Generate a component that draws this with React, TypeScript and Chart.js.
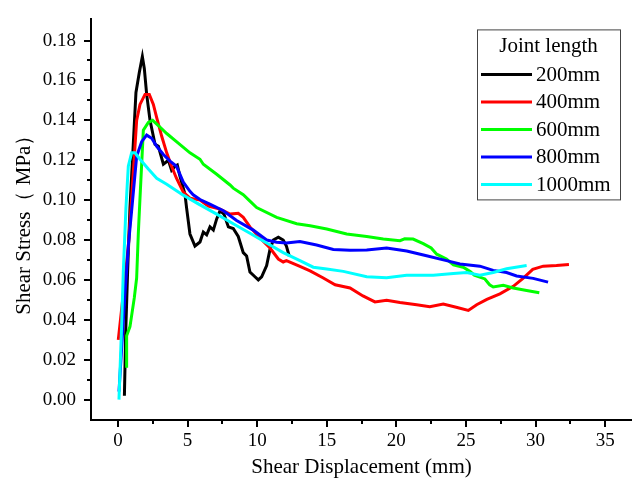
import React, { useEffect, useRef } from 'react';
import { Chart, registerables } from 'chart.js';

Chart.register(...registerables);

const SERIES_LABELS = ['200mm', '400mm', '600mm', '800mm', '1000mm'];
const SERIES_COLORS = ['#000000', '#ff0000', '#00ff00', '#0000ff', '#00ffff'];
const LEGEND_TITLE = 'Joint length';
const X_TITLE = 'Shear Displacement (mm)';
const Y_TITLE = 'Shear Stress\uFF08 MPa\uFF09';

const X_200 = [0.46, 0.55, 0.69, 0.86, 1.29, 1.53, 1.75, 1.89, 2.06, 2.3, 2.66, 2.9, 3.26, 3.62, 3.85, 4.1, 4.26, 4.45, 4.57, 4.81, 4.93, 5.17, 5.53, 5.89, 6.13, 6.37, 6.61, 6.85, 7.09, 7.33, 7.61, 7.93, 8.28, 8.64, 9.0, 9.24, 9.48, 9.84, 10.08, 10.32, 10.68, 10.92, 11.16, 11.52, 11.87, 12.1, 12.3];
const Y_200 = [0.002, 0.033, 0.064, 0.096, 0.154, 0.164, 0.172, 0.166, 0.153, 0.140, 0.128, 0.127, 0.118, 0.120, 0.115, 0.117, 0.1176, 0.112, 0.109, 0.103, 0.096, 0.083, 0.077, 0.079, 0.084, 0.0826, 0.0866, 0.085, 0.0906, 0.0947, 0.093, 0.0866, 0.0858, 0.0818, 0.0737, 0.072, 0.064, 0.0616, 0.060, 0.0616, 0.0672, 0.0753, 0.080, 0.0814, 0.080, 0.077, 0.072];

const X_400 = [0.02, 0.38, 0.74, 0.98, 1.34, 1.58, 1.94, 2.25, 2.54, 2.78, 3.14, 3.5, 3.85, 4.2, 4.69, 5.17, 5.89, 6.49, 7.33, 8.05, 8.64, 9.0, 9.48, 10.2, 10.92, 11.52, 11.87, 12.1, 13.07, 13.8, 14.75, 15.6, 16.67, 17.6, 18.46, 19.3, 20.26, 21.46, 22.4, 23.37, 24.3, 25.17, 25.77, 26.5, 27.44, 28.4, 29.1, 29.8, 30.55, 31.5, 32.4];
const Y_400 = [0.030, 0.053, 0.077, 0.101, 0.140, 0.148, 0.153, 0.153, 0.148, 0.1414, 0.132, 0.1237, 0.117, 0.111, 0.104, 0.101, 0.100, 0.097, 0.0955, 0.093, 0.0934, 0.0914, 0.0866, 0.081, 0.076, 0.0705, 0.069, 0.0697, 0.0668, 0.0645, 0.061, 0.0576, 0.056, 0.052, 0.049, 0.0498, 0.0487, 0.0476, 0.0466, 0.0479, 0.0463, 0.0447, 0.0476, 0.0503, 0.053, 0.0568, 0.0608, 0.0653, 0.0669, 0.0672, 0.0677];

const X_600 = [0.62, 0.62, 0.86, 1.17, 1.34, 1.46, 1.58, 1.82, 2.18, 2.49, 2.9, 3.5, 4.2, 5.17, 5.89, 6.13, 7.09, 8.05, 8.28, 9.0, 9.48, 9.96, 11.4, 12.84, 13.8, 15.0, 16.43, 17.87, 19.06, 20.26, 20.6, 21.2, 21.93, 22.5, 22.9, 23.6, 24.1, 24.8, 25.3, 25.6, 26.36, 26.7, 26.96, 27.68, 28.4, 29.36, 30.27];
const Y_600 = [0.016, 0.032, 0.0366, 0.051, 0.061, 0.0834, 0.101, 0.135, 0.139, 0.140, 0.1374, 0.1334, 0.1293, 0.1237, 0.1205, 0.118, 0.113, 0.1076, 0.106, 0.1027, 0.0995, 0.0963, 0.0914, 0.0882, 0.0872, 0.0855, 0.083, 0.0818, 0.0805, 0.0797, 0.0806, 0.0805, 0.0782, 0.076, 0.0729, 0.0705, 0.0676, 0.0664, 0.0643, 0.0624, 0.0605, 0.0576, 0.0565, 0.0573, 0.056, 0.0547, 0.0536];

const X_800 = [0.07, 0.5, 0.74, 1.05, 1.34, 1.7, 2.06, 2.42, 2.78, 3.26, 3.74, 4.2, 4.69, 5.17, 5.4, 5.89, 6.6, 7.57, 8.52, 9.72, 10.68, 11.4, 12.1, 13.07, 14.27, 15.47, 16.67, 17.87, 19.3, 20.74, 22.17, 23.6, 24.57, 26.0, 26.96, 27.92, 28.64, 29.83, 30.9];
const Y_800 = [0.004, 0.053, 0.077, 0.100, 0.122, 0.1293, 0.1326, 0.131, 0.127, 0.1229, 0.1196, 0.117, 0.109, 0.1044, 0.1027, 0.1003, 0.098, 0.0947, 0.0898, 0.085, 0.080, 0.0789, 0.0785, 0.0793, 0.0775, 0.0753, 0.0749, 0.075, 0.076, 0.0745, 0.0721, 0.0697, 0.068, 0.0669, 0.0648, 0.0637, 0.062, 0.0608, 0.0589];

const X_1000 = [0.07, 0.26, 0.38, 0.57, 0.74, 0.98, 1.22, 1.58, 2.18, 2.78, 3.5, 4.69, 5.8, 7.09, 8.28, 9.48, 10.68, 11.87, 13.07, 14.03, 15.0, 16.19, 17.87, 19.3, 20.74, 22.65, 24.1, 25.05, 26.0, 26.96, 27.92, 29.36];
const Y_1000 = [0.0, 0.037, 0.064, 0.096, 0.117, 0.1237, 0.1237, 0.1205, 0.1156, 0.111, 0.108, 0.1025, 0.098, 0.093, 0.0882, 0.0834, 0.0785, 0.0737, 0.0697, 0.0664, 0.0655, 0.0643, 0.0616, 0.0611, 0.0624, 0.0624, 0.0632, 0.0637, 0.0624, 0.0637, 0.0656, 0.0672];

const SERIES_X = [X_200, X_400, X_600, X_800, X_1000];
const SERIES_Y = [Y_200, Y_400, Y_600, Y_800, Y_1000];

const X_TICKS = [0, 5, 10, 15, 20, 25, 30, 35];
const Y_TICKS = [0, 0.02, 0.04, 0.06, 0.08, 0.1, 0.12, 0.14, 0.16, 0.18];
const X_MINOR = [2.5, 7.5, 12.5, 17.5, 22.5, 27.5, 32.5];
const Y_MINOR = [0.01, 0.03, 0.05, 0.07, 0.09, 0.11, 0.13, 0.15, 0.17];
const X_MIN = -1.94;
const X_MAX = 36.93;
const Y_MIN = -0.0102;
const Y_MAX = 0.1906;

const FONT = "'Liberation Serif', 'Times New Roman', serif";

const decorPlugin = {
  id: 'decor',
  afterDraw(chart: any) {
    const ctx = chart.ctx;
    const xs = chart.scales.x;
    const ys = chart.scales.y;
    const area = chart.chartArea;
    ctx.save();
    ctx.strokeStyle = '#000';
    ctx.lineWidth = 2;
    X_MINOR.forEach((v) => {
      const px = Math.round(xs.getPixelForValue(v));
      ctx.beginPath();
      ctx.moveTo(px, area.bottom);
      ctx.lineTo(px, area.bottom + 4);
      ctx.stroke();
    });
    Y_MINOR.forEach((v) => {
      const py = Math.round(ys.getPixelForValue(v));
      ctx.beginPath();
      ctx.moveTo(area.left, py);
      ctx.lineTo(area.left - 4, py);
      ctx.stroke();
    });

    // legend box
    const boxW = 143;
    const boxH = 170;
    const left = area.right - 12 - boxW;
    const top = area.top + 10;
    ctx.fillStyle = '#fff';
    ctx.fillRect(left, top, boxW, boxH);
    ctx.strokeStyle = '#444';
    ctx.lineWidth = 1;
    ctx.strokeRect(left + 0.5, top + 0.5, boxW, boxH);
    ctx.fillStyle = '#000';
    ctx.font = `21px ${FONT}`;
    ctx.textBaseline = 'middle';
    ctx.textAlign = 'center';
    ctx.fillText(LEGEND_TITLE, left + boxW / 2, top + 17);
    ctx.textAlign = 'left';
    chart.data.datasets.forEach((ds: any, i: number) => {
      const y = top + 45 + i * 27.5;
      ctx.strokeStyle = ds.borderColor;
      ctx.lineWidth = 3;
      ctx.beginPath();
      ctx.moveTo(left + 4, y);
      ctx.lineTo(left + 55, y);
      ctx.stroke();
      ctx.fillStyle = '#000';
      ctx.fillText(ds.label, left + 59, y + 1);
    });
    ctx.restore();
  },
};

export default function App() {
  const canvasRef = useRef<HTMLCanvasElement | null>(null);

  useEffect(() => {
    const canvas = canvasRef.current;
    if (!canvas) return;
    const n = SERIES_LABELS.length;
    const datasets = SERIES_LABELS.map((label, i) => ({
      label,
      data: SERIES_X[i].map((x, j) => ({ x, y: SERIES_Y[i][j] })),
      borderColor: SERIES_COLORS[i],
      backgroundColor: SERIES_COLORS[i],
      borderWidth: 3,
      pointRadius: 0,
      tension: 0,
      fill: false,
      order: n - 1 - i,
    }));

    const chart = new Chart(canvas, {
      type: 'line',
      data: { datasets },
      options: {
        animation: false,
        responsive: false,
        devicePixelRatio: 1,
        layout: { padding: { top: 5, right: 0, left: 0, bottom: 0 } },
        plugins: {
          legend: { display: false },
          tooltip: { enabled: false },
        },
        scales: {
          x: {
            type: 'linear',
            min: X_MIN,
            max: X_MAX,
            afterBuildTicks: (s: any) => {
              s.ticks = X_TICKS.map((v) => ({ value: v }));
            },
            afterFit: (s: any) => {
              s.height = 66;
            },
            grid: {
              drawOnChartArea: false,
              drawTicks: true,
              tickLength: 7,
              color: '#000',
              lineWidth: 2,
            },
            border: { display: true, color: '#000', width: 2 },
            ticks: {
              color: '#000',
              font: { family: FONT, size: 19 },
              padding: 3,
              maxRotation: 0,
              autoSkip: false,
              callback: (v: any) => String(v),
            },
            title: {
              display: true,
              text: X_TITLE,
              color: '#000',
              font: { family: FONT, size: 21 },
              padding: { top: 0, bottom: 6 },
            },
          },
          y: {
            type: 'linear',
            min: Y_MIN,
            max: Y_MAX,
            afterBuildTicks: (s: any) => {
              s.ticks = Y_TICKS.map((v) => ({ value: v }));
            },
            afterFit: (s: any) => {
              s.width = 91;
            },
            grid: {
              drawOnChartArea: false,
              drawTicks: true,
              tickLength: 7,
              color: '#000',
              lineWidth: 2,
            },
            border: { display: true, color: '#000', width: 2 },
            ticks: {
              color: '#000',
              font: { family: FONT, size: 19 },
              padding: 8,
              autoSkip: false,
              callback: (v: any) => Number(v).toFixed(2),
            },
            title: {
              display: true,
              text: Y_TITLE,
              color: '#000',
              font: { family: FONT, size: 21 },
              padding: { top: 12, bottom: 0 },
            },
          },
        },
      },
      plugins: [decorPlugin],
    } as any);

    return () => {
      chart.destroy();
    };
  }, []);

  return (
    <div style={{ position: 'absolute', left: 0, top: 0, width: 632, height: 486, background: '#fff' }}>
      <canvas ref={canvasRef} width={632} height={486} style={{ display: 'block' }} />
    </div>
  );
}
